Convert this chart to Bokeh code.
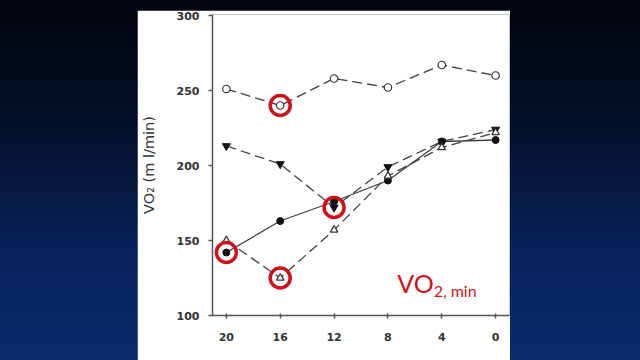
from bokeh.plotting import figure
from bokeh.models import Range1d, FixedTicker, Label, Spacer, GlobalInlineStyleSheet
from bokeh.layouts import row, column
from bokeh.embed import file_html
from bokeh.resources import INLINE

# ---- data ----
weeks = [20, 16, 12, 8, 4, 0]
open_circle = [251, 240, 258, 252, 267, 260]
down_triangle = [213, 201, 172, 199, 216, 224]
filled_circle = [142, 163, 176, 190, 216, 217]
open_triangle = [150, 125, 157, 193, 212, 222]
highlight_x = [20, 16, 16, 12]
highlight_y = [142, 240, 125, 172]
x_ticks = [20, 16, 12, 8, 4, 0]
y_ticks = [100, 150, 200, 250, 300]

LINE = "#404040"
RED = "#cc121d"

p = figure(width=373, height=350, output_backend="svg", toolbar_location=None,
           x_range=Range1d(21.03, -1.03), y_range=Range1d(100, 300.67),
           min_border_left=71, min_border_right=1, min_border_top=4, min_border_bottom=45,
           background_fill_color="white", border_fill_color="white",
           outline_line_color=None)
p.grid.visible = False

for ax in (p.xaxis[0], p.yaxis[0]):
    ax.axis_line_color = "#555555"
    ax.axis_line_width = 1.5
    ax.major_tick_line_color = "#555555"
    ax.major_tick_line_width = 1.5
    ax.minor_tick_line_color = None
    ax.major_label_text_font = "DejaVu Sans"
    ax.major_label_text_font_style = "bold"
    ax.major_label_text_font_size = "11px"
    ax.major_label_text_color = "#333333"

p.xaxis.ticker = FixedTicker(ticks=x_ticks)
p.xaxis.major_tick_in = 2
p.xaxis.major_tick_out = 3
p.xaxis.major_label_standoff = 14

p.yaxis.ticker = FixedTicker(ticks=y_ticks)
p.yaxis.major_tick_in = 0
p.yaxis.major_tick_out = 4
p.yaxis.major_label_standoff = 9
p.yaxis.axis_label = "VO\u2082 (m l/min)"
p.yaxis.axis_label_text_font = "DejaVu Sans"
p.yaxis.axis_label_text_font_style = "normal"
p.yaxis.axis_label_text_font_size = "14.5px"
p.yaxis.axis_label_text_color = "#333333"
p.yaxis.axis_label_standoff = 17

# series
p.line(weeks, open_circle, line_color=LINE, line_width=1.3, line_dash="10 5")
p.scatter(weeks, open_circle, marker="circle", size=7.5, fill_color="white",
          line_color="#333333", line_width=1.2)

p.line(weeks, down_triangle, line_color=LINE, line_width=1.3, line_dash="10 5")
p.scatter(weeks, down_triangle, marker="inverted_triangle", size=8,
          fill_color="#111111", line_color="#111111")

p.line(weeks, filled_circle, line_color=LINE, line_width=1.3)
p.scatter(weeks, filled_circle, marker="circle", size=7,
          fill_color="#111111", line_color="#111111")

p.line(weeks, open_triangle, line_color=LINE, line_width=1.3, line_dash="10 5")
p.scatter(weeks, open_triangle, marker="triangle", size=7.5, fill_color="white",
          line_color="#333333", line_width=1.2)

# red highlight rings
p.scatter(highlight_x, highlight_y, marker="circle", size=20, fill_color=None,
          line_color=RED, line_width=3.5)

# red annotation
p.add_layout(Label(x=7.3, y=122, text="VO", text_font="Lato", text_font_size="25px",
                   text_font_style="normal", text_color=RED, text_baseline="alphabetic"))
p.add_layout(Label(x=4.6, y=116.5, text="2, min", text_font="Lato", text_font_size="16px",
                   text_color=RED, text_baseline="alphabetic"))

bg = GlobalInlineStyleSheet(css="""
html, body {
  background: linear-gradient(180deg, #01040b 0%, #03102a 35%, #08225a 70%, #0b2a6c 100%) fixed;
  overflow: hidden;
}
""")

layout = row(Spacer(width=137, height=360),
             column(Spacer(width=373, height=10), p),
             Spacer(width=130, height=360),
             stylesheets=[bg])

open("out.html", "w").write(file_html(layout, INLINE))
